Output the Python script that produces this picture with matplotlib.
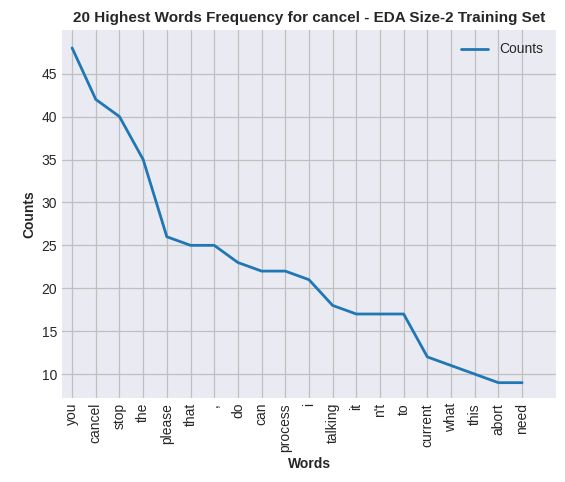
import matplotlib
matplotlib.use("Agg")
import matplotlib.pyplot as plt

words = ["you","cancel","stop","the","please","that",",","do","can","process","i","talking","it","n't","to","current","what","this","abort","need"]
counts = [48,42,40,35,26,25,25,23,22,22,21,18,17,17,17,12,11,10,9,9]

plt.style.use("seaborn-v0_8-darkgrid")
fig = plt.figure(figsize=(5.65,4.82), dpi=100)
ax = fig.add_axes([0.110, 0.174, 0.874, 0.764])
ax.plot(range(len(words)), counts, color="#1f77b4", lw=2, label="Counts")
ax.grid(True, color="#bfbfbf", lw=0.9)
ax.set_facecolor("#eaeaf2")
ax.set_xticks(range(len(words)))
ax.set_xticklabels(words, rotation=90, fontsize=10)
ax.tick_params(axis="y", labelsize=10)
ax.set_xlim(-0.42, 20.43)
ax.set_ylim(7.2, 50.1)
ax.set_yticks([10,15,20,25,30,35,40,45])
ax.set_xlabel("Words", fontweight="bold")
ax.set_ylabel("Counts", fontweight="bold")
ax.set_title("20 Highest Words Frequency for cancel - EDA Size-2 Training Set", fontweight="bold", fontsize=11)
ax.legend(loc="upper right", fontsize=10)
fig.savefig("out.png", dpi=100)
